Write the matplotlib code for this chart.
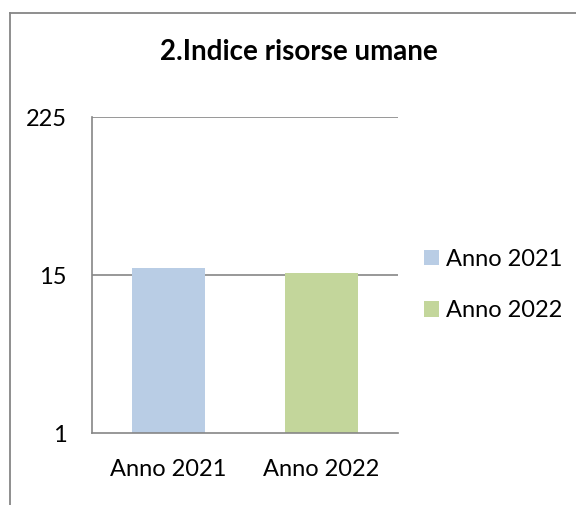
import matplotlib.pyplot as plt
from matplotlib.lines import Line2D

plt.rcParams['font.family'] = ['Lato', 'DejaVu Sans']

categories = ['Anno 2021', 'Anno 2022']
values = [16.9, 15.5]
colors = ['#B9CDE5', '#C3D69B']
yticks = [1, 15, 225]

fig = plt.figure(figsize=(5.76, 5.05), dpi=100)
ax = fig.add_axes([92 / 576, 72 / 505, 306 / 576, 316 / 505])

bars = ax.bar(range(len(categories)), values, width=0.48, color=colors,
              label=categories, zorder=1)

ax.set_yscale('log', base=15)
ax.set_ylim(1, 225)
ax.set_xlim(-0.5, 1.5)
ax.set_yticks(yticks)
ax.set_yticklabels([str(t) for t in yticks])
ax.minorticks_off()
ax.set_xticks(range(len(categories)))
ax.set_xticklabels(categories)
ax.tick_params(axis='both', length=0, labelsize=17, colors='black')
ax.tick_params(axis='y', pad=18)
ax.tick_params(axis='x', pad=18.5)

# horizontal gridlines behind bars
for t in yticks[1:]:
    ax.axhline(t, color='#868686', linewidth=1.2, zorder=0)

for side in ['top', 'right']:
    ax.spines[side].set_visible(False)
for side in ['left', 'bottom']:
    ax.spines[side].set_color('#868686')
    ax.spines[side].set_linewidth(1.2)

fig.text(299 / 576, 1 - 52 / 505, '2.Indice risorse umane', ha='center',
         va='center', fontsize=20, fontweight='bold')

fig.legend(handles=bars, labels=categories, loc='center left',
           bbox_to_anchor=(424 / 576, 1 - 285 / 505), frameon=False,
           fontsize=17, handlelength=0.64, handleheight=0.64,
           handletextpad=0.3, labelspacing=1.3, borderpad=0,
           borderaxespad=0)

# outer chart border (cropped on right and bottom)
fig.add_artist(Line2D([10 / 576, 10 / 576], [0, 1 - 13 / 505],
                      transform=fig.transFigure, color='#868686', linewidth=1.3))
fig.add_artist(Line2D([10 / 576, 1], [1 - 13 / 505, 1 - 13 / 505],
                      transform=fig.transFigure, color='#868686', linewidth=1.3))

fig.savefig('out.png', dpi=100)
